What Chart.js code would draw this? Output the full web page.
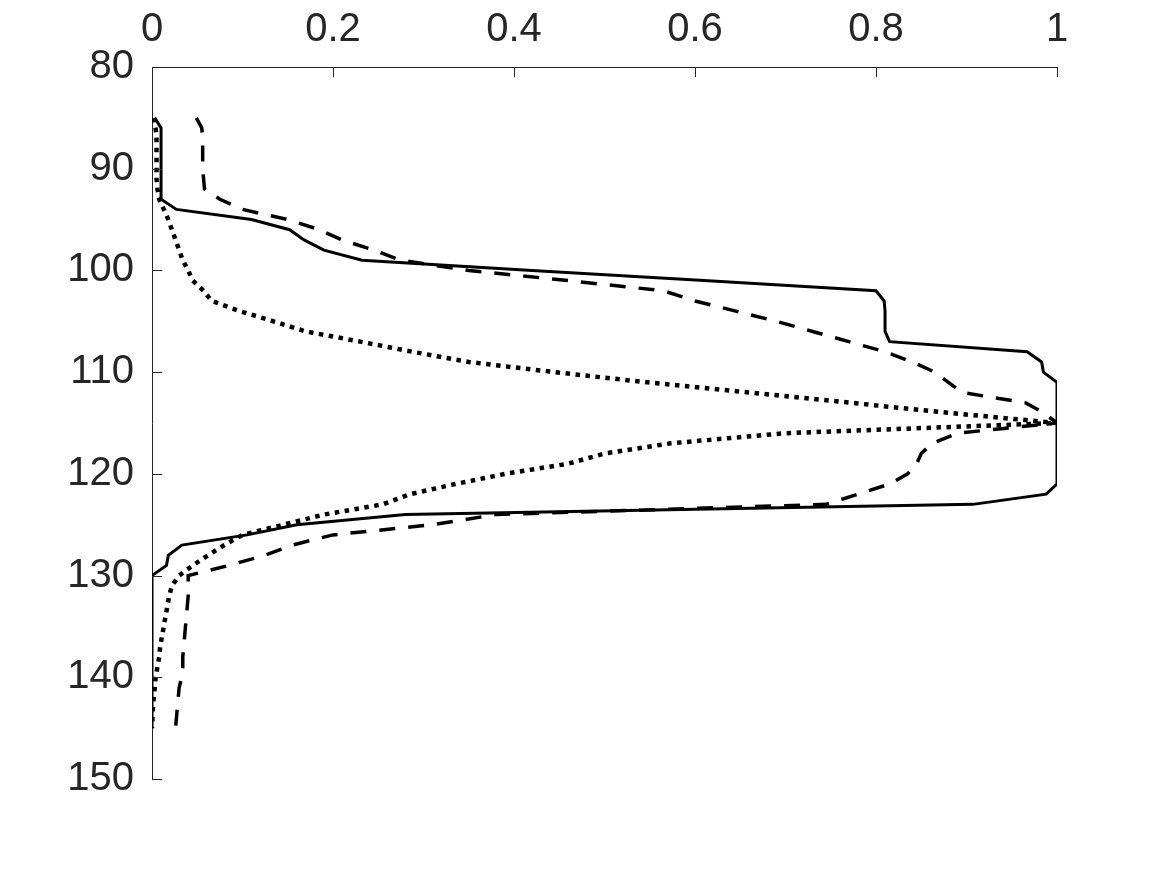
<!DOCTYPE html>
<html>
<head>
<meta charset="utf-8">
<script src="https://cdn.jsdelivr.net/npm/chart.js@4.4.1/dist/chart.umd.min.js"></script>
<style>
  html, body { margin: 0; padding: 0; background: #fff; }
  #wrap { width: 1167px; height: 875px; }
</style>
</head>
<body>
<div id="wrap"><canvas id="myChart" width="1167" height="875"></canvas></div>
<script>
// depth values (y axis, reversed)
var depths = [85, 86, 87, 88, 89, 90, 91, 92, 93, 94, 95, 96, 97, 98, 99, 100,
  101, 102, 103, 104, 105, 106, 107, 108, 109, 110, 111, 112, 113, 114, 115,
  116, 117, 118, 119, 120, 121, 122, 123, 124, 125, 126, 127, 128, 129, 130,
  131, 132, 133, 134, 135, 136, 137, 138, 139, 140, 141, 142, 143, 144, 145];

// solid line
var solidVals = [0.003, 0.01, 0.01, 0.01, 0.01, 0.01, 0.01, 0.01, 0.01, 0.027, 0.11, 0.152, 0.168, 0.19, 0.232, 0.42,
  0.61, 0.80, 0.809, 0.81, 0.81, 0.81, 0.815, 0.967, 0.983, 0.985, 1.0, 1.0, 1.0, 1.0, 1.0,
  1.0, 1.0, 1.0, 1.0, 1.0, 1.0, 0.988, 0.907, 0.28, 0.16, 0.105, 0.033, 0.018, 0.016, 0.0,
  0, 0, 0, 0, 0, 0, 0, 0, 0, 0, 0, 0, 0, 0, 0];

// dashed line
var dashedVals = [0.049, 0.055, 0.056, 0.056, 0.056, 0.056, 0.057, 0.058, 0.075, 0.1, 0.15, 0.185, 0.21, 0.245, 0.275, 0.35,
  0.46, 0.565, 0.6, 0.645, 0.69, 0.73, 0.77, 0.81, 0.84, 0.865, 0.88, 0.895, 0.965, 0.985, 1.0,
  0.89, 0.862, 0.85, 0.845, 0.835, 0.815, 0.78, 0.745, 0.38, 0.31, 0.2, 0.155, 0.125, 0.085, 0.04,
  0.04, 0.04, 0.039, 0.038, 0.037, 0.036, 0.035, 0.034, 0.034, 0.033, 0.03, 0.029, 0.028, 0.027, 0.026];

// dotted line
var dottedVals = [0.002, 0.004, 0.005, 0.005, 0.005, 0.005, 0.005, 0.006, 0.008, 0.013, 0.018, 0.022, 0.026, 0.03, 0.034, 0.04,
  0.045, 0.057, 0.066, 0.097, 0.134, 0.17, 0.23, 0.288, 0.35, 0.445, 0.547, 0.66, 0.771, 0.88, 1.0,
  0.7, 0.573, 0.5, 0.46, 0.39, 0.335, 0.285, 0.255, 0.19, 0.145, 0.1, 0.08, 0.062, 0.045, 0.03,
  0.022, 0.019, 0.017, 0.015, 0.013, 0.011, 0.009, 0.008, 0.006, 0.004, 0.003, 0.002, 0.001, 0.0005, 0];

var xTicks = [0, 0.2, 0.4, 0.6, 0.8, 1];
var xTickLabels = ["0", "0.2", "0.4", "0.6", "0.8", "1"];
var yTicks = [80, 90, 100, 110, 120, 130, 140, 150];

var ink = "#262626";
var fontFam = "'Liberation Sans', Arial, sans-serif";

function pts(vals) {
  return depths.map(function (d, i) { return { x: vals[i], y: d }; });
}

// inward tick marks, like the original plot
var inwardTicks = {
  id: "inwardTicks",
  afterDraw: function (chart) {
    var c = chart.ctx, xs = chart.scales.x, ys = chart.scales.y, a = chart.chartArea;
    c.save();
    c.strokeStyle = ink;
    c.lineWidth = 1;
    c.beginPath();
    xTicks.forEach(function (v) {
      var px = Math.round(xs.getPixelForValue(v)) + 0.5;
      c.moveTo(px, a.top);
      c.lineTo(px, a.top + 10);
    });
    yTicks.forEach(function (v) {
      var py = Math.round(ys.getPixelForValue(v)) + 0.5;
      c.moveTo(a.left, py);
      c.lineTo(a.left + 10, py);
    });
    c.stroke();
    c.restore();
  }
};

var ctx = document.getElementById("myChart").getContext("2d");
var chart = new Chart(ctx, {
  type: "scatter",
  data: {
    datasets: [
      {
        label: "solid",
        data: pts(solidVals),
        showLine: true,
        borderColor: "#000",
        borderWidth: 3,
        pointRadius: 0,
        tension: 0
      },
      {
        label: "dashed",
        data: pts(dashedVals),
        showLine: true,
        borderColor: "#000",
        borderWidth: 3.5,
        borderDash: [16, 13],
        pointRadius: 0,
        tension: 0
      },
      {
        label: "dotted",
        data: pts(dottedVals),
        showLine: true,
        borderColor: "#000",
        borderWidth: 4.5,
        borderDash: [4.5, 5.5],
        pointRadius: 0,
        tension: 0
      }
    ]
  },
  options: {
    responsive: false,
    animation: false,
    layout: { padding: { left: 0, top: 0, right: 110, bottom: 96 } },
    plugins: { legend: { display: false }, tooltip: { enabled: false } },
    scales: {
      x: {
        type: "linear",
        position: "top",
        min: 0,
        max: 1,
        afterFit: function (s) { s.height = 67; },
        afterBuildTicks: function (s) { s.ticks = xTicks.map(function (v) { return { value: v }; }); },
        grid: { display: false },
        border: { display: true, color: ink, width: 1 },
        ticks: {
          color: ink,
          padding: 5,
          maxRotation: 0,
          font: { family: fontFam, size: 40 },
          callback: function (v) { return xTickLabels[xTicks.indexOf(v)]; }
        }
      },
      y: {
        type: "linear",
        reverse: true,
        min: 80,
        max: 150,
        afterFit: function (s) { s.width = 152; },
        afterBuildTicks: function (s) { s.ticks = yTicks.map(function (v) { return { value: v }; }); },
        grid: { display: false },
        border: { display: true, color: ink, width: 1 },
        ticks: {
          color: ink,
          padding: 10,
          font: { family: fontFam, size: 40 }
        }
      }
    }
  },
  plugins: [inwardTicks]
});
</script>
</body>
</html>
